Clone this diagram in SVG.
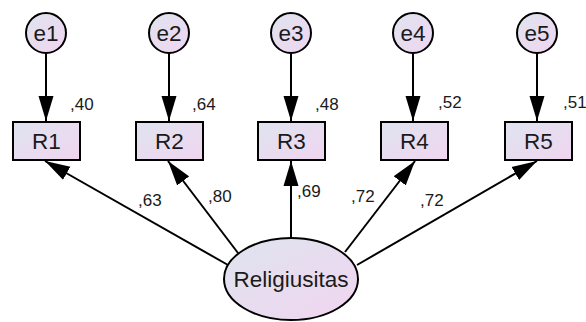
<svg xmlns="http://www.w3.org/2000/svg" width="586" height="322" viewBox="0 0 586 322">
<style>
.shape{stroke:#000;stroke-width:2;fill:url(#g)}
.lbl{font-family:"Liberation Sans",Arial,sans-serif;font-size:22.5px;fill:#1a1a1a;text-anchor:middle}
.num{font-family:"Liberation Sans",Arial,sans-serif;font-size:17px;fill:#1a1a1a}
.con line{stroke:#000;stroke-width:2;marker-end:url(#ah)}
</style>
<defs>
<linearGradient id="g" x1="0" y1="0" x2="1" y2="1">
<stop offset="0" stop-color="#dfe4ef"/>
<stop offset="1" stop-color="#f0d5f0"/>
</linearGradient>
<marker id="ah" markerUnits="userSpaceOnUse" markerWidth="26" markerHeight="16" refX="25" refY="7.5" orient="auto" viewBox="0 0 26 15">
<path d="M0,0 L25,7.5 L0,15 z" fill="#000"/>
</marker>
</defs>
<g id="connectors" class="con">
<line x1="46" y1="53" x2="46" y2="121"/>
<line x1="169" y1="53" x2="169" y2="121"/>
<line x1="291" y1="53" x2="291" y2="121"/>
<line x1="413" y1="53" x2="413" y2="121"/>
<line x1="537" y1="53" x2="537" y2="121"/>
<line x1="228" y1="265" x2="45" y2="161"/>
<line x1="238" y1="253" x2="168" y2="161"/>
<line x1="291" y1="238" x2="291" y2="161"/>
<line x1="345" y1="252" x2="415" y2="161"/>
<line x1="357" y1="265" x2="537" y2="161"/>
</g>
<g id="e1"><circle class="shape" cx="46" cy="33" r="20"/><text class="lbl" x="46" y="41">e1</text></g>
<g id="e2"><circle class="shape" cx="169" cy="33" r="20"/><text class="lbl" x="169" y="41">e2</text></g>
<g id="e3"><circle class="shape" cx="291" cy="33" r="20"/><text class="lbl" x="291" y="41">e3</text></g>
<g id="e4"><circle class="shape" cx="413" cy="33" r="20"/><text class="lbl" x="413" y="41">e4</text></g>
<g id="e5"><circle class="shape" cx="537" cy="33" r="20"/><text class="lbl" x="537" y="41">e5</text></g>
<g id="R1"><rect class="shape" x="13" y="122" width="67" height="38"/><text class="lbl" x="46.5" y="149">R1</text><text class="num" x="70" y="110">,40</text></g>
<g id="R2"><rect class="shape" x="136" y="122" width="67" height="38"/><text class="lbl" x="169.5" y="149">R2</text><text class="num" x="192" y="110">,64</text></g>
<g id="R3"><rect class="shape" x="258" y="122" width="67" height="38"/><text class="lbl" x="291.5" y="149">R3</text><text class="num" x="315" y="110">,48</text></g>
<g id="R4"><rect class="shape" x="381" y="122" width="67" height="38"/><text class="lbl" x="414.5" y="149">R4</text><text class="num" x="438" y="108">,52</text></g>
<g id="R5"><rect class="shape" x="505" y="122" width="67" height="38"/><text class="lbl" x="538.5" y="149">R5</text><text class="num" x="563" y="108">,51</text></g>
<g id="Religiusitas"><ellipse class="shape" cx="291" cy="279" rx="67" ry="41"/><text class="lbl" x="291" y="287">Religiusitas</text></g>
<g id="weights" class="num">
<text class="num" x="138" y="206">,63</text>
<text class="num" x="208" y="202">,80</text>
<text class="num" x="297" y="197">,69</text>
<text class="num" x="351" y="202">,72</text>
<text class="num" x="420" y="206">,72</text>
</g>
</svg>
